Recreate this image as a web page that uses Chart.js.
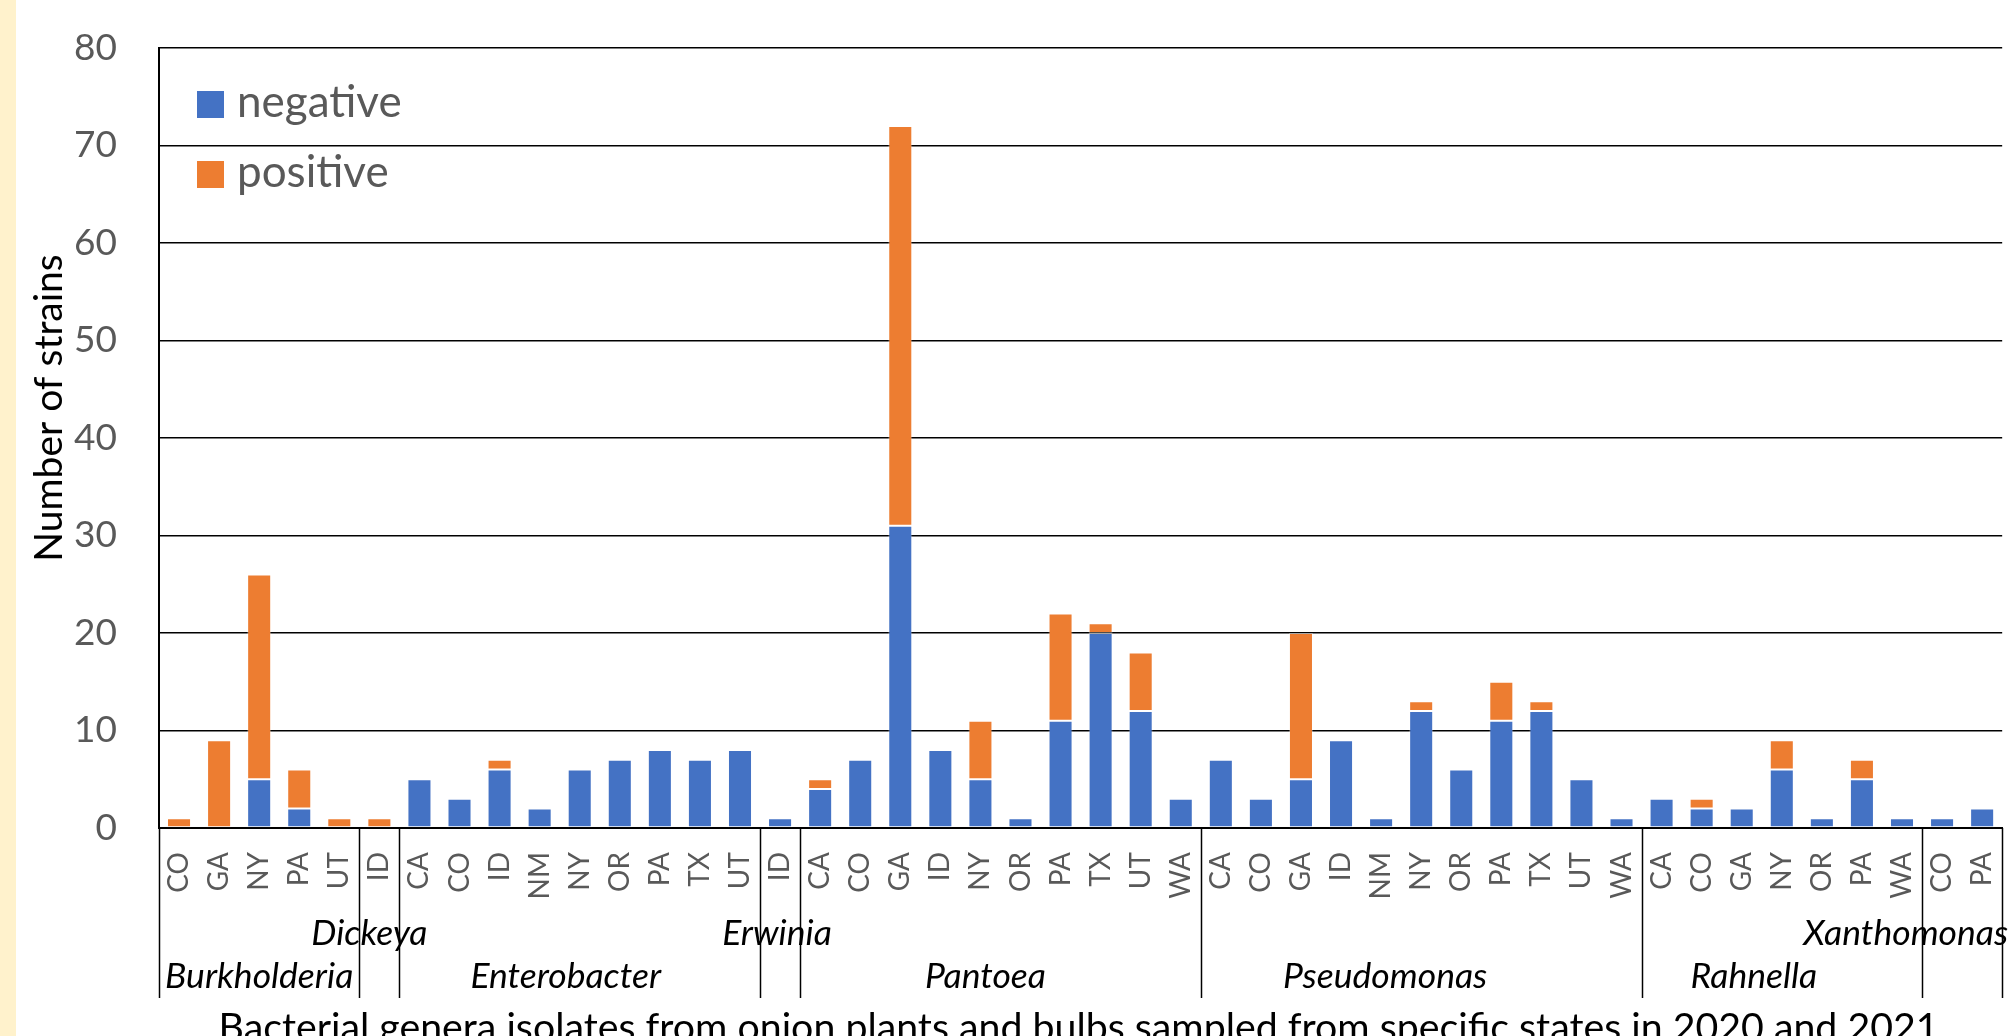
<!DOCTYPE html>
<html>
<head>
<meta charset="utf-8">
<script src="https://cdn.jsdelivr.net/npm/chart.js@4.4.1/dist/chart.umd.min.js"></script>
<style>
  html, body { margin: 0; padding: 0; background: #fff; overflow: hidden; width: 2011px; height: 1036px; }
  #strip { position: absolute; left: 0; top: 0; width: 16px; height: 1036px; background: #FFF2CC; }
  #chart { position: absolute; left: 0; top: 0; }
</style>
</head>
<body>
<div id="strip"></div>
<canvas id="chart" width="2040" height="1060"></canvas>
<script>
// Genera and how many state categories each one spans, in order
const genera = ['Burkholderia', 'Dickeya', 'Enterobacter', 'Erwinia', 'Pantoea', 'Pseudomonas', 'Rahnella', 'Xanthomonas'];
const genusSizes = [5, 1, 9, 1, 10, 11, 7, 2];

// State of origin for each bar
const states = [
  'CO', 'GA', 'NY', 'PA', 'UT',
  'ID',
  'CA', 'CO', 'ID', 'NM', 'NY', 'OR', 'PA', 'TX', 'UT',
  'ID',
  'CA', 'CO', 'GA', 'ID', 'NY', 'OR', 'PA', 'TX', 'UT', 'WA',
  'CA', 'CO', 'GA', 'ID', 'NM', 'NY', 'OR', 'PA', 'TX', 'UT', 'WA',
  'CA', 'CO', 'GA', 'NY', 'OR', 'PA', 'WA',
  'CO', 'PA'
];

// Strain counts per state, split by test result
const negative = [
  0, 0, 5, 2, 0,
  0,
  5, 3, 6, 2, 6, 7, 8, 7, 8,
  1,
  4, 7, 31, 8, 5, 1, 11, 20, 12, 3,
  7, 3, 5, 9, 1, 12, 6, 11, 12, 5, 1,
  3, 2, 2, 6, 1, 5, 1,
  1, 2
];
const positive = [
  1, 9, 21, 4, 1,
  1,
  0, 0, 1, 0, 0, 0, 0, 0, 0,
  0,
  1, 0, 41, 0, 6, 0, 11, 1, 6, 0,
  0, 0, 15, 0, 0, 1, 0, 4, 1, 0, 0,
  0, 1, 0, 3, 0, 2, 0,
  0, 0
];

const yTitle = 'Number of strains';
const xTitle = 'Bacterial genera isolates from onion plants and bulbs sampled from specific states in 2020 and 2021';

const FONT = 'Lato, "Open Sans", sans-serif';
const GRAY = '#595959';

// Nudges for genus captions, mirroring the original spreadsheet layout
const captionShift = { Dickeya: -10, Enterobacter: -14, Erwinia: -3, Pantoea: -15, Pseudomonas: -36, Rahnella: -28 };

const decorations = {
  id: 'decorations',
  afterDraw(chart) {
    const { ctx, chartArea: a, scales: { x } } = chart;
    const catW = x.getPixelForValue(1) - x.getPixelForValue(0);
    ctx.save();

    // Separators between genus groups, through the category label band
    ctx.strokeStyle = '#000';
    ctx.lineWidth = 1.5;
    let start = 0;
    const bounds = [];
    genusSizes.forEach((n) => { bounds.push([start, start + n - 1]); start += n; });
    const edges = [0].concat(bounds.map(b => b[1] + 1));
    edges.forEach((idx) => {
      const px = Math.round(x.getPixelForValue(idx) - catW / 2) + 0.5;
      ctx.beginPath();
      ctx.moveTo(px, a.bottom);
      ctx.lineTo(px, x.bottom);
      ctx.stroke();
    });

    // Genus captions: two rows, narrow groups use the upper row
    ctx.font = 'italic 35.5px ' + FONT;
    ctx.fillStyle = '#000';
    ctx.textBaseline = 'alphabetic';
    ctx.textAlign = 'left';
    genera.forEach((g, i) => {
      const [s, e] = bounds[i];
      const left = x.getPixelForValue(s) - catW / 2;
      const right = x.getPixelForValue(e) + catW / 2;
      const w = ctx.measureText(g).width;
      const cx = (left + right) / 2 + (captionShift[g] || 0);
      let tx = cx - w / 2;
      if (tx + w > a.right + 6) tx = a.right + 6 - w;
      const upper = w > (right - left) - 4;
      const baseY = upper ? a.bottom + 117 : a.bottom + 160;
      ctx.fillText(g, tx, baseY);
    });

    // Y axis title
    ctx.save();
    ctx.translate(62, a.top + (a.bottom - a.top) / 2 - 30);
    ctx.rotate(-Math.PI / 2);
    ctx.font = '39px ' + FONT;
    ctx.fillStyle = '#000';
    ctx.textAlign = 'center';
    ctx.textBaseline = 'alphabetic';
    ctx.fillText(yTitle, 0, 0);
    ctx.restore();

    // X axis title below the genus captions
    ctx.font = '39.3px ' + FONT;
    ctx.fillStyle = '#000';
    ctx.textAlign = 'center';
    ctx.textBaseline = 'alphabetic';
    ctx.fillText(xTitle, a.left + (a.right - a.left) / 2 - 2, x.bottom + 43);

    // Legend inside the plot, top-left
    ctx.font = '44px ' + FONT;
    ctx.textAlign = 'left';
    ctx.textBaseline = 'middle';
    chart.data.datasets.forEach((ds, i) => {
      const sy = a.top + 43 + i * 70;
      ctx.fillStyle = ds.backgroundColor;
      ctx.fillRect(a.left + 38, sy, 27, 27);
      ctx.fillStyle = GRAY;
      ctx.fillText(ds.label, a.left + 78, sy + 12);
    });

    ctx.restore();
  }
};

new Chart(document.getElementById('chart'), {
  type: 'bar',
  data: {
    labels: states,
    datasets: [
      { label: 'negative', data: negative, backgroundColor: '#4472C4', borderColor: 'rgba(255,255,255,0.3)', borderWidth: 1, borderSkipped: false },
      { label: 'positive', data: positive, backgroundColor: '#ED7D31', borderColor: 'rgba(255,255,255,0.3)', borderWidth: 1, borderSkipped: false }
    ]
  },
  options: {
    responsive: false,
    animation: false,
    devicePixelRatio: 1,
    layout: { padding: { top: 48, right: 24, bottom: 62, left: 0 } },
    plugins: {
      legend: { display: false },
      title: { display: false },
      tooltip: { enabled: false }
    },
    datasets: { bar: { categoryPercentage: 1.0, barPercentage: 0.6 } },
    scales: {
      x: {
        stacked: true,
        grid: { display: false, drawTicks: false },
        border: { display: true, color: '#000', width: 2 },
        ticks: {
          autoSkip: false,
          maxRotation: 90,
          minRotation: 90,
          padding: 24,
          color: GRAY,
          font: { family: FONT, size: 28 }
        },
        afterFit(scale) { scale.height = 170; }
      },
      y: {
        stacked: true,
        min: 0,
        max: 80,
        ticks: {
          stepSize: 10,
          padding: 42,
          color: GRAY,
          font: { family: FONT, size: 37 }
        },
        grid: { color: '#000', lineWidth: 1.5, drawTicks: false },
        border: { display: true, color: '#000', width: 2 },
        afterFit(scale) {
          scale.width = 159;
          scale.paddingTop = 0;
          scale.paddingBottom = 0;
        }
      }
    }
  },
  plugins: [decorations]
});
</script>
</body>
</html>
